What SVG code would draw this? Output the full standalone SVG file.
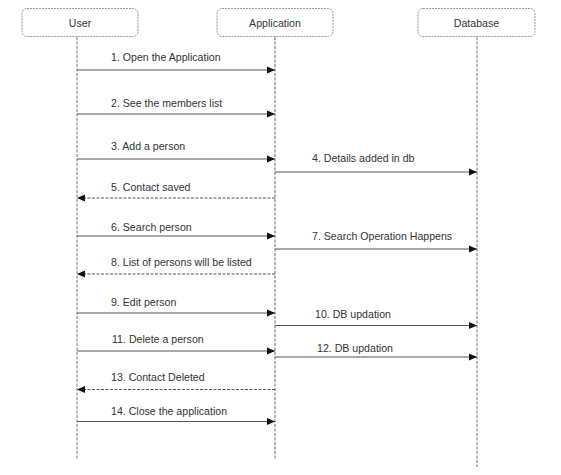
<svg xmlns="http://www.w3.org/2000/svg" width="561" height="475" viewBox="0 0 561 475">
<style>
.bg{fill:#fff}
.box{fill:#fff;stroke:#999;stroke-width:1;stroke-dasharray:2,1}
.hd{font-family:"Liberation Sans",Arial,sans-serif;font-size:10.6px;fill:#333;text-anchor:middle}
.life{stroke:#777;stroke-width:1;stroke-dasharray:3,1.5;fill:none}
.msg{stroke:#555;stroke-width:1.2;fill:none}
.ret{stroke:#555;stroke-width:1.2;fill:none;stroke-dasharray:3,1.5}
.lbl{font-family:"Liberation Sans",Arial,sans-serif;font-size:10.6px;fill:#333}
</style>
<defs>
<marker id="ah" viewBox="0 0 8 8" refX="8" refY="4" markerWidth="8" markerHeight="8" markerUnits="userSpaceOnUse" orient="auto">
<path d="M0,0.5 L8,4 L0,7.5 Z" fill="#111"/>
</marker>
</defs>
<rect class="bg" x="0" y="0" width="561" height="475"/>
<g id="lifelines">
<line class="life" x1="77" y1="37" x2="77" y2="460"/>
<line class="life" x1="275" y1="37" x2="275" y2="460" style="stroke:#999;stroke-width:1.5"/>
<line class="life" x1="477" y1="37" x2="477" y2="467"/>
</g>
<g id="user"><rect class="box" x="22" y="8.5" width="116" height="28" rx="5"/><text class="hd" x="80" y="27">User</text></g>
<g id="application"><rect class="box" x="217" y="8.5" width="116" height="28" rx="5"/><text class="hd" x="275" y="27">Application</text></g>
<g id="database"><rect class="box" x="418" y="8.5" width="117" height="28" rx="5"/><text class="hd" x="476.5" y="27">Database</text></g>
<g id="connectors">
<line class="msg" x1="77" y1="70" x2="275" y2="70" marker-end="url(#ah)"/>
<line class="msg" x1="77" y1="114" x2="275" y2="114" marker-end="url(#ah)"/>
<line class="msg" x1="77" y1="159" x2="275" y2="159" marker-end="url(#ah)"/>
<line class="msg" x1="275" y1="172" x2="477" y2="172" marker-end="url(#ah)"/>
<line class="ret" x1="275" y1="198" x2="77" y2="198" marker-end="url(#ah)"/>
<line class="msg" x1="77" y1="236" x2="275" y2="236" marker-end="url(#ah)"/>
<line class="msg" x1="275" y1="249" x2="477" y2="249" marker-end="url(#ah)"/>
<line class="ret" x1="275" y1="274" x2="77" y2="274" marker-end="url(#ah)"/>
<line class="msg" x1="77" y1="313" x2="275" y2="313" marker-end="url(#ah)"/>
<line class="msg" x1="275" y1="325.5" x2="477" y2="325.5" marker-end="url(#ah)"/>
<line class="msg" x1="77" y1="351" x2="275" y2="351" marker-end="url(#ah)"/>
<line class="msg" x1="275" y1="357" x2="477" y2="357" marker-end="url(#ah)"/>
<line class="ret" x1="275" y1="389.5" x2="77" y2="389.5" marker-end="url(#ah)"/>
<line class="msg" x1="77" y1="421.5" x2="275" y2="421.5" marker-end="url(#ah)"/>
</g>
<g id="labels">
<text class="lbl" x="111" y="61">1. Open the Application</text>
<text class="lbl" x="111" y="107">2. See the members list</text>
<text class="lbl" x="111" y="150">3. Add a person</text>
<text class="lbl" x="312" y="162">4. Details added in db</text>
<text class="lbl" x="111" y="191">5. Contact saved</text>
<text class="lbl" x="111" y="231">6. Search person</text>
<text class="lbl" x="312" y="240">7. Search Operation Happens</text>
<text class="lbl" x="111" y="266">8. List of persons will be listed</text>
<text class="lbl" x="111" y="306">9. Edit person</text>
<text class="lbl" x="315" y="318">10. DB updation</text>
<text class="lbl" x="112" y="343">11. Delete a person</text>
<text class="lbl" x="317" y="352">12. DB updation</text>
<text class="lbl" x="111" y="381">13. Contact Deleted</text>
<text class="lbl" x="111" y="415">14. Close the application</text>
</g>
</svg>
